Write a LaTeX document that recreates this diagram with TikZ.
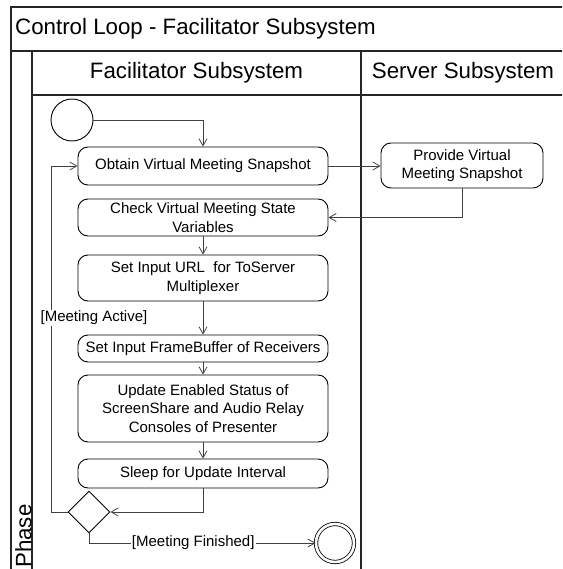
\documentclass[tikz,border=0pt]{standalone}
\usepackage{fontspec}
\setmainfont{Liberation Sans}
\usetikzlibrary{arrows.meta, shapes.geometric, calc}
\tikzset{
  activity/.style={rectangle,rounded corners=10pt,draw=black,line width=0.9pt,
    align=center,font=\fontsize{15}{18.5}\selectfont,inner sep=2pt,minimum width=250pt},
  decision/.style={diamond,draw=black,line width=0.9pt,minimum width=42pt,minimum height=42pt,inner sep=0pt},
  startnode/.style={circle,draw=black,line width=0.9pt,minimum size=42pt,inner sep=0pt},
  endnode/.style={circle,draw=black,line width=0.8pt,double,double distance=2.6pt,minimum size=38pt,inner sep=0pt},
  lane/.style={draw=black!85,line width=1.1pt},
  heading/.style={font=\fontsize{22.3}{26}\selectfont,inner sep=0pt},
  lbl/.style={font=\fontsize{15}{18}\selectfont,fill=white,inner sep=1pt},
  flow/.style={-{Straight Barb[length=7pt,width=8pt]},line width=0.8pt,draw=black!75}
}
\begin{document}
\begin{tikzpicture}[x=1pt,y=-1pt]
\useasboundingbox (0,0) rectangle (562,569);
\clip (0,0) rectangle (562,569);
% frame and swimlanes
\draw[lane] (600,7) -- (11,7) -- (11,600);
\draw[lane] (11,51) -- (600,51);
\draw[lane] (32,95) -- (600,95);
\draw[lane] (32,51) -- (32,600);
\draw[lane] (361,51) -- (361,600);
\node[heading,anchor=west] (ttl) at (15,29) {Control Loop - Facilitator Subsystem};
\node[heading] (facil) at (196.5,73) {Facilitator Subsystem};
\node[heading] (server) at (463,73) {Server Subsystem};
\node[heading,rotate=90,anchor=west] (phase) at (23.5,568) {Phase};

% activities
\node[startnode] (start) at (72,120) {};
\node[activity,minimum height=38pt] (obtain) at (203,166) {Obtain Virtual Meeting Snapshot};
\node[activity,minimum width=162pt,minimum height=45pt] (provide) at (462,165.5) {Provide Virtual\\Meeting Snapshot};
\node[activity,minimum height=37pt] (check) at (203,217.5) {Check Virtual Meeting State\\Variables};
\node[activity,minimum height=46pt] (url) at (203,278) {Set Input URL~ for ToServer\\Multiplexer};
\node[activity,minimum height=27pt] (fbuf) at (203,348.5) {Set Input FrameBuffer of Receivers};
\node[activity,minimum height=67pt] (upd) at (203,408.5) {Update Enabled Status of\\ScreenShare and Audio Relay\\Consoles of Presenter};
\node[activity,minimum height=29pt] (sleep) at (203,473.5) {Sleep for Update Interval};
\node[decision] (dec) at (89,512) {};
\node[endnode] (fin) at (335,543) {};

% flows
\draw[flow] (start.east) -| (obtain.north);
\draw[flow] (obtain.east) -- (obtain.east -| provide.west);
\draw[flow] (provide.south) |- (check.east);
\draw[flow] (check) -- (url);
\draw[flow] (url) -- (fbuf);
\draw[flow] (fbuf) -- (upd);
\draw[flow] (upd) -- (sleep);
\draw[flow] (sleep.south) |- (dec.east);
\draw[flow] (dec.west) -- ++(-16,0) |- (obtain.west);
\node[lbl] (active) at (94,318) {[Meeting Active]};
\draw[flow] (dec.south) |- node[lbl,pos=0.73] (finished) {[Meeting Finished]} (fin.west);
\end{tikzpicture}
\end{document}
